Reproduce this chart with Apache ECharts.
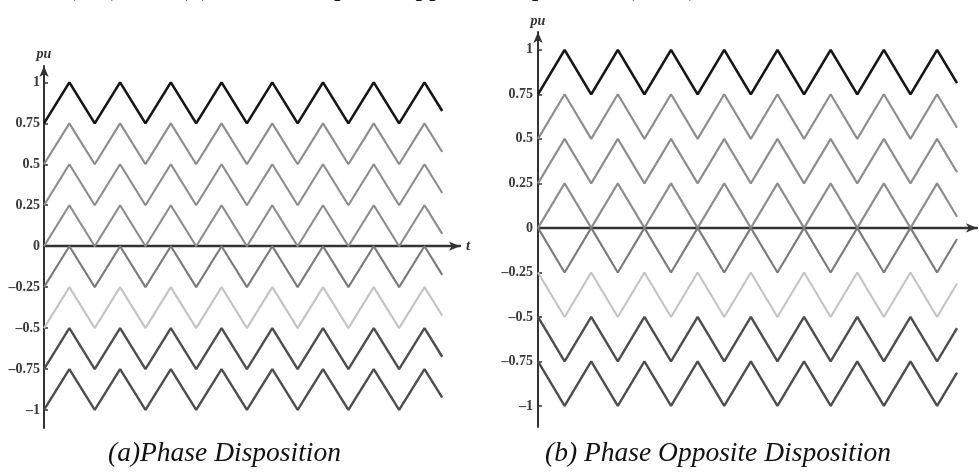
<!DOCTYPE html>
<html>
<head>
<meta charset="utf-8">
<script src="https://cdn.jsdelivr.net/npm/echarts@6.0.0/dist/echarts.min.js"></script>
<style>
html,body{margin:0;padding:0;background:#fff;}
#chart{width:979px;height:474px;}
</style>
</head>
<body>
<div id="chart"></div>
<script>
// ---- data ----
const yTickValues = [1, 0.75, 0.5, 0.25, 0, -0.25, -0.5, -0.75, -1];
const pdTimes  = [0,1,2,3,4,5,6,7,8,9,10,11,12,13,14,15,15.7];
const podTimes = [0,1,2,3,4,5,6,7,8,9,10,11,12,13,14,15,15.75];

// (a) Phase Disposition carriers (top to bottom)
const pd1 = [0.75,1,0.75,1,0.75,1,0.75,1,0.75,1,0.75,1,0.75,1,0.75,1,0.825];
const pd2 = [0.5,0.75,0.5,0.75,0.5,0.75,0.5,0.75,0.5,0.75,0.5,0.75,0.5,0.75,0.5,0.75,0.575];
const pd3 = [0.25,0.5,0.25,0.5,0.25,0.5,0.25,0.5,0.25,0.5,0.25,0.5,0.25,0.5,0.25,0.5,0.325];
const pd4 = [0,0.25,0,0.25,0,0.25,0,0.25,0,0.25,0,0.25,0,0.25,0,0.25,0.075];
const pd5 = [-0.25,0,-0.25,0,-0.25,0,-0.25,0,-0.25,0,-0.25,0,-0.25,0,-0.25,0,-0.175];
const pd6 = [-0.5,-0.25,-0.5,-0.25,-0.5,-0.25,-0.5,-0.25,-0.5,-0.25,-0.5,-0.25,-0.5,-0.25,-0.5,-0.25,-0.425];
const pd7 = [-0.75,-0.5,-0.75,-0.5,-0.75,-0.5,-0.75,-0.5,-0.75,-0.5,-0.75,-0.5,-0.75,-0.5,-0.75,-0.5,-0.675];
const pd8 = [-1,-0.75,-1,-0.75,-1,-0.75,-1,-0.75,-1,-0.75,-1,-0.75,-1,-0.75,-1,-0.75,-0.925];

// (b) Phase Opposite Disposition carriers (top to bottom)
const pod1 = [0.75,1,0.75,1,0.75,1,0.75,1,0.75,1,0.75,1,0.75,1,0.75,1,0.8125];
const pod2 = [0.5,0.75,0.5,0.75,0.5,0.75,0.5,0.75,0.5,0.75,0.5,0.75,0.5,0.75,0.5,0.75,0.5625];
const pod3 = [0.25,0.5,0.25,0.5,0.25,0.5,0.25,0.5,0.25,0.5,0.25,0.5,0.25,0.5,0.25,0.5,0.3125];
const pod4 = [0,0.25,0,0.25,0,0.25,0,0.25,0,0.25,0,0.25,0,0.25,0,0.25,0.0625];
const pod5 = [0,-0.25,0,-0.25,0,-0.25,0,-0.25,0,-0.25,0,-0.25,0,-0.25,0,-0.25,-0.0625];
const pod6 = [-0.25,-0.5,-0.25,-0.5,-0.25,-0.5,-0.25,-0.5,-0.25,-0.5,-0.25,-0.5,-0.25,-0.5,-0.25,-0.5,-0.3125];
const pod7 = [-0.5,-0.75,-0.5,-0.75,-0.5,-0.75,-0.5,-0.75,-0.5,-0.75,-0.5,-0.75,-0.5,-0.75,-0.5,-0.75,-0.5625];
const pod8 = [-0.75,-1,-0.75,-1,-0.75,-1,-0.75,-1,-0.75,-1,-0.75,-1,-0.75,-1,-0.75,-1,-0.8125];

const captionA = '(a)Phase Disposition';
const captionB = '(b) Phase Opposite Disposition';
const topText = '(PD), and (b) the carrier phase opposite disposition (POD)';

// ---- styles ----
const carrierColors = ['#161616','#8c8c8c','#8c8c8c','#8c8c8c','#7a7a7a','#c4c4c4','#4e4e4e','#4e4e4e'];
const carrierWidths = [2.6,2.1,2.1,2.1,2.1,2.1,2.4,2.4];
const serif = '"Liberation Serif", "DejaVu Serif", serif';

function zip(ts, vs){ return ts.map((t,i)=>[t, vs[i]]); }

function makeSeries(idx, ts, arrs){
  return arrs.map((vs, k) => ({
    type: 'line',
    xAxisIndex: idx, yAxisIndex: idx,
    data: zip(ts, vs),
    symbol: 'none',
    silent: true,
    lineStyle: { color: carrierColors[k], width: carrierWidths[k] },
    z: 2
  }));
}

function yAxis(idx, min, max, labelMargin, nameGap){
  return {
    type: 'value', gridIndex: idx, min: min, max: max,
    name: 'pu', nameLocation: 'end', nameGap: nameGap,
    nameTextStyle: { fontFamily: serif, fontStyle: 'italic', fontWeight: 'bold', fontSize: 14, color: '#333', align: 'center' },
    axisLine: { show: true, onZero: false, symbol: ['none','arrow'], symbolSize: [7,11], lineStyle: { color: '#333', width: 2 } },
    axisTick: { show: true, inside: true, length: 4, customValues: yTickValues, lineStyle: { color: '#333', width: 1.5 } },
    axisLabel: {
      show: true, customValues: yTickValues, margin: labelMargin,
      fontFamily: serif, fontWeight: 'bold', fontSize: 14, color: '#3a3a3a',
      formatter: v => (v < 0 ? '\u2013' + String(-v) : String(v))
    },
    splitLine: { show: false }
  };
}

function xAxis(idx, max, showName){
  return {
    type: 'value', gridIndex: idx, min: 0, max: max,
    name: showName ? 't' : '', nameLocation: 'end', nameGap: 6,
    nameTextStyle: { fontFamily: serif, fontStyle: 'italic', fontWeight: 'bold', fontSize: 15, color: '#333', verticalAlign: 'middle' },
    axisLine: { show: true, onZero: true, symbol: ['none','arrow'], symbolSize: [7,11], lineStyle: { color: '#333', width: 2.3 } },
    axisTick: { show: false },
    axisLabel: { show: false },
    splitLine: { show: false }
  };
}

const chart = echarts.init(document.getElementById('chart'), null, { renderer: 'canvas' });
chart.setOption({
  animation: false,
  backgroundColor: '#fff',
  grid: [
    { left: 44, top: 66, width: 416, height: 362 },
    { left: 538, top: 32, width: 439, height: 395 }
  ],
  xAxis: [ xAxis(0, 16.4, true), xAxis(1, 16.5, false) ],
  yAxis: [ yAxis(0, -1.11, 1.1, 4, 5), yAxis(1, -1.118, 1.1, 5, 4) ],
  series: [].concat(
    makeSeries(0, pdTimes, [pd1,pd2,pd3,pd4,pd5,pd6,pd7,pd8]),
    makeSeries(1, podTimes, [pod1,pod2,pod3,pod4,pod5,pod6,pod7,pod8])
  ),
  graphic: [
    { type: 'text', left: 108, top: 440, style: { text: captionA, fontFamily: serif, fontStyle: 'italic', fontSize: 27.5, fill: '#111' } },
    { type: 'text', left: 545, top: 440, style: { text: captionB, fontFamily: serif, fontStyle: 'italic', fontSize: 27.5, fill: '#111' } },
    { type: 'text', x: 67, y: 1, style: { text: topText, fontFamily: serif, fontSize: 27, fill: '#111', verticalAlign: 'bottom' } }
  ]
});
</script>
</body>
</html>
